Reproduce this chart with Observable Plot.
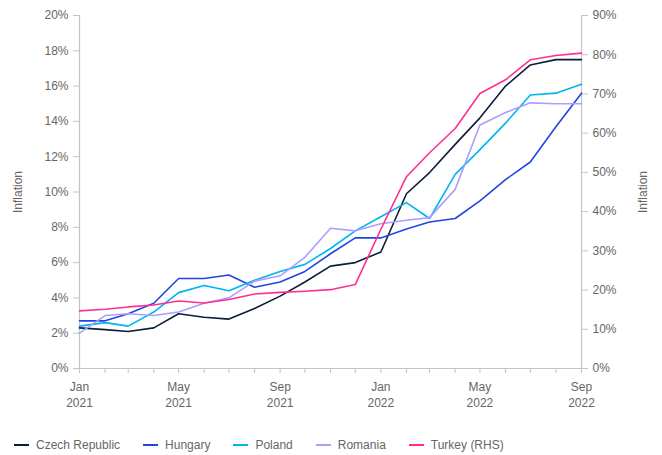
<!DOCTYPE html>
<html>
<head>
<meta charset="utf-8">
<script src="https://cdn.jsdelivr.net/npm/d3@7"></script>
<script src="https://cdn.jsdelivr.net/npm/@observablehq/plot@0.6"></script>
<style>
  html, body { margin: 0; padding: 0; background: #fff; }
  body { width: 662px; height: 455px; overflow: hidden; font-family: "Liberation Sans", Arial, sans-serif; }
  #chart { position: relative; }
  .ylab { position: absolute; font-size: 12px; color: #666; transform-origin: center; white-space: nowrap; }
  #legend { display: flex; align-items: center; margin: 18px 0 0 14px; font-size: 12px; color: #666; }
  .item { display: flex; align-items: center; margin-right: 23px; }
  .sw { width: 15px; height: 2.5px; margin-right: 7px; }
</style>
</head>
<body>
<div id="chart"></div>
<div id="legend"></div>
<script>
const months = ["2021-01","2021-02","2021-03","2021-04","2021-05","2021-06","2021-07","2021-08","2021-09","2021-10","2021-11","2021-12",
                "2022-01","2022-02","2022-03","2022-04","2022-05","2022-06","2022-07","2022-08","2022-09"];
const czech   = [2.3,2.2,2.1,2.3,3.1,2.9,2.8,3.4,4.1,4.9,5.8,6.0,6.6,9.9,11.1,12.7,14.2,16.0,17.2,17.5,17.5];
const hungary = [2.7,2.7,3.1,3.7,5.1,5.1,5.3,4.6,4.9,5.5,6.5,7.4,7.4,7.9,8.3,8.5,9.5,10.7,11.7,13.7,15.6];
const poland  = [2.4,2.6,2.4,3.2,4.3,4.7,4.4,5.0,5.5,5.9,6.8,7.8,8.6,9.4,8.5,11.0,12.4,13.9,15.5,15.6,16.1];
const romania = [2.0,3.0,3.1,3.0,3.2,3.7,4.0,4.95,5.25,6.3,7.95,7.8,8.2,8.4,8.55,10.15,13.8,14.5,15.05,15.0,15.0];
const turkey  = [14.7,15.1,15.7,16.2,17.2,16.7,17.6,19.0,19.4,19.7,20.1,21.4,35.5,48.9,55.0,61.2,70.1,73.6,78.7,79.8,80.4];

const seriesNames = ["Czech Republic","Hungary","Poland","Romania","Turkey (RHS)"];
const seriesColors = ["#0b1f3d","#2045e3","#00b4ef","#ae9dff","#ff2f92"];
const leftTicks = [0,2,4,6,8,10,12,14,16,18,20];
const rightTicks = [0,10,20,30,40,50,60,70,80,90];
const labeledMonths = ["2021-01","2021-05","2021-09","2022-01","2022-05","2022-09"];

const ratio = 20 / 90; // right axis -> left axis
const parse = d3.utcParse("%Y-%m");
const dates = months.map(parse);
const allSeries = [czech, hungary, poland, romania, turkey];
const rows = [];
allSeries.forEach((vals, si) => {
  vals.forEach((v, i) => rows.push({
    date: dates[i],
    series: seriesNames[si],
    y: si === 4 ? v * ratio : v
  }));
});

const axisColor = "#c4c4c4";
const textColor = "#666";
const labeledSet = new Set(labeledMonths);
const fmt = d3.utcFormat("%b\n%Y");

const chart = Plot.plot({
  width: 662,
  height: 420,
  marginTop: 15,
  marginBottom: 52,
  marginLeft: 79,
  marginRight: 81,
  style: { fontFamily: "'Liberation Sans', Arial, sans-serif", fontSize: "12px", color: textColor },
  x: { type: "utc", domain: [dates[0], dates[dates.length - 1]] },
  y: { domain: [0, 20] },
  color: { domain: seriesNames, range: seriesColors },
  marks: [
    Plot.ruleX([dates[0]], { stroke: axisColor, strokeWidth: 1.2 }),
    Plot.ruleX([dates[dates.length - 1]], { stroke: axisColor, strokeWidth: 1.2 }),
    Plot.ruleY([0], { stroke: axisColor, strokeWidth: 1.2 }),
    Plot.axisY(leftTicks, {
      anchor: "left", tickSize: 6, tickPadding: 5, stroke: axisColor, fill: textColor,
      tickFormat: d => d + "%", label: null, fontSize: 12
    }),
    Plot.axisY(rightTicks.map(v => v * ratio), {
      anchor: "right", tickSize: 6, tickPadding: 5, stroke: axisColor, fill: textColor,
      tickFormat: d => Math.round(d / ratio) + "%", label: null, fontSize: 12
    }),
    Plot.axisX(dates, {
      anchor: "bottom", tickSize: 5, tickPadding: 6, stroke: axisColor, fill: textColor,
      tickFormat: d => labeledSet.has(d3.utcFormat("%Y-%m")(d)) ? fmt(d) : "",
      label: null, fontSize: 12, lineHeight: 1.35
    }),
    Plot.line(rows, { x: "date", y: "y", z: "series", stroke: "series", strokeWidth: 1.6 })
  ]
});
const holder = document.getElementById("chart");
holder.appendChild(chart);

function addYLabel(text, cx, cy) {
  const el = document.createElement("div");
  el.className = "ylab";
  el.textContent = text;
  holder.appendChild(el);
  const w = el.offsetWidth, h = el.offsetHeight;
  el.style.left = (cx - w / 2) + "px";
  el.style.top = (cy - h / 2) + "px";
  el.style.transform = "rotate(-90deg)";
}
addYLabel("Inflation", 18, 192);
addYLabel("Inflation", 643, 192);

const legend = document.getElementById("legend");
seriesNames.forEach((name, i) => {
  const item = document.createElement("div");
  item.className = "item";
  const sw = document.createElement("span");
  sw.className = "sw";
  sw.style.background = seriesColors[i];
  const t = document.createElement("span");
  t.textContent = name;
  item.appendChild(sw);
  item.appendChild(t);
  legend.appendChild(item);
});
</script>
</body>
</html>
